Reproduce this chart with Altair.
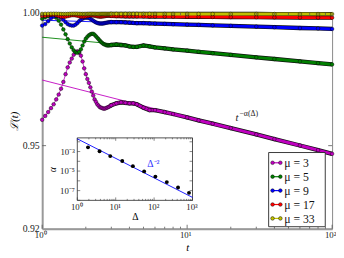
import altair as alt
import pandas as pd

# ---------------- data ----------------
t = [1.00, 1.05, 1.10, 1.15, 1.20, 1.25, 1.30, 1.35, 1.40, 1.45,
     1.50, 1.55, 1.60, 1.65, 1.70, 1.75, 1.80, 1.85, 1.90, 1.95,
     2.00, 2.05, 2.10, 2.15, 2.20, 2.25, 2.30, 2.35, 2.40, 2.45,
     2.50, 2.55, 2.60, 2.65, 2.70, 2.75, 2.80, 2.85, 2.90, 2.95,
     3.00, 3.25, 3.5, 3.75, 4, 4.25, 4.5, 5, 5.5, 6,
     7, 8, 10, 12, 15, 20, 30, 40, 60, 80, 100]

L_mu3 = [0.95953, 0.96097, 0.96241, 0.96386, 0.96531, 0.96712, 0.96895, 0.97113, 0.97368, 0.97661,
         0.97918, 0.98103, 0.98250, 0.98398, 0.98491, 0.98528, 0.98472, 0.98361, 0.98140, 0.97881,
         0.97661, 0.97478, 0.97332, 0.97167, 0.97004, 0.96858, 0.96712, 0.96622, 0.96531, 0.96477,
         0.96422, 0.96404, 0.96386, 0.96368, 0.96368, 0.96386, 0.96404, 0.96422, 0.96440, 0.96477,
         0.96495,
         0.96567, 0.96603, 0.96585, 0.96567, 0.96567, 0.96531, 0.96404, 0.96314, 0.96314, 0.96241,
         0.96169, 0.96043, 0.95935, 0.95809, 0.95647, 0.95414, 0.95242, 0.95006, 0.94835, 0.94699]

L_mu5 = [0.99775, 0.99831, 0.99869, 0.99887, 0.99887, 0.99812, 0.99700, 0.99550, 0.99364, 0.99177,
         0.98991, 0.98824, 0.98676, 0.98565, 0.98491, 0.98472, 0.98509, 0.98602, 0.98750, 0.98898,
         0.99009, 0.99084, 0.99140, 0.99177, 0.99196, 0.99196, 0.99158, 0.99102, 0.99046, 0.98991,
         0.98935, 0.98880, 0.98843, 0.98806, 0.98787, 0.98768, 0.98750, 0.98750, 0.98750, 0.98761,
         0.98768,
         0.98787, 0.98768, 0.98750, 0.98713, 0.98694, 0.98694, 0.98750, 0.98713, 0.98676, 0.98639,
         0.98602, 0.98554, 0.98509, 0.98457, 0.98391, 0.98298, 0.98235, 0.98144, 0.98081, 0.98029]

L_mu9 = [0.99513, 0.99569, 0.99681, 0.99794, 0.99857, 0.99887, 0.99869, 0.99812, 0.99737, 0.99644,
         0.99569, 0.99532, 0.99513, 0.99513, 0.99550, 0.99607, 0.99681, 0.99737, 0.99775, 0.99805,
         0.99812, 0.99812, 0.99805, 0.99775, 0.99737, 0.99700, 0.99663, 0.99633, 0.99614, 0.99599,
         0.99588, 0.99588, 0.99588, 0.99595, 0.99607, 0.99618, 0.99625, 0.99633, 0.99640, 0.99644,
         0.99648,
         0.99644, 0.99644, 0.99633, 0.99625, 0.99614, 0.99607, 0.99607, 0.99595, 0.99588, 0.99577,
         0.99565, 0.99550, 0.99539, 0.99520, 0.99501, 0.99471, 0.99449, 0.99419, 0.99401, 0.99382]

L_mu17 = [0.99880, 0.99887, 0.99910, 0.99925, 0.99925, 0.99910, 0.99880, 0.99857, 0.99850, 0.99857,
          0.99876, 0.99895, 0.99910, 0.99914, 0.99906, 0.99891, 0.99872, 0.99857, 0.99850, 0.99854,
          0.99865, 0.99880, 0.99891, 0.99899, 0.99902, 0.99899, 0.99891, 0.99880, 0.99869, 0.99861,
          0.99857, 0.99857, 0.99861, 0.99869, 0.99876, 0.99884, 0.99887, 0.99891, 0.99891, 0.99887,
          0.99884,
          0.99880, 0.99876, 0.99872, 0.99869, 0.99869, 0.99869, 0.99865, 0.99861, 0.99861, 0.99857,
          0.99854, 0.99850, 0.99850, 0.99846, 0.99842, 0.99835, 0.99831, 0.99823, 0.99820, 0.99816]

L_mu33 = [0.99962, 0.99965, 0.99968, 0.99970, 0.99970, 0.99968, 0.99964, 0.99961, 0.99959, 0.99959,
          0.99961, 0.99964, 0.99967, 0.99968, 0.99968, 0.99966, 0.99963, 0.99961, 0.99960, 0.99960,
          0.99961, 0.99963, 0.99965, 0.99966, 0.99966, 0.99965, 0.99964, 0.99962, 0.99961, 0.99961,
          0.99962, 0.99963, 0.99964, 0.99964, 0.99964, 0.99963, 0.99963, 0.99962, 0.99962, 0.99962,
          0.99962,
          0.99962, 0.99962, 0.99962, 0.99961, 0.99961, 0.99961, 0.99961, 0.99961, 0.99960, 0.99960,
          0.99960, 0.99960, 0.99959, 0.99959, 0.99958, 0.99958, 0.99957, 0.99956, 0.99956, 0.99955]

# power-law fits t^{-alpha}: end points at t = 1 and t = 100
fit_t = [1, 100]
fit_mu3 = [0.97441, 0.94699]
fit_mu5 = [0.99065, 0.98029]
fit_mu9 = [0.99719, 0.99382]
fit_mu17 = [0.99906, 0.99816]
fit_mu33 = [0.99966, 0.99955]

mu_labels = ["μ = 3", "μ = 5", "μ = 9", "μ = 17", "μ = 33"]
mu_colors = ["#bf00bf", "#008000", "#0000ff", "#ff0000", "#bfbf00"]

# inset: alpha versus Delta
delta = [1.9, 3.8, 7.2, 14.8, 28, 55, 108, 214, 420, 810]
alpha = [2.7e-3, 1.07e-3, 3.4e-4, 1.07e-4, 3.2e-5, 9.3e-6, 2.7e-6, 7.4e-7, 2.1e-7, 5.9e-8]
delta_line = [1, 1000]
alpha_line = [2.0e-2, 2.0e-8]

x_major = [1, 10, 100]
x_minor = [2, 3, 4, 5, 6, 7, 8, 9, 20, 30, 40, 50, 60, 70, 80, 90]
y_labels = [0.92, 0.95, 1.00]
ix_major = [1, 10, 100, 1000]
ix_minor = [2, 3, 4, 5, 6, 7, 8, 9, 20, 30, 40, 50, 60, 70, 80, 90,
            200, 300, 400, 500, 600, 700, 800, 900]
iy_major = [1e-8, 1e-7, 1e-6, 1e-5, 1e-4, 1e-3, 1e-2]
iy_labels = [1e-3, 1e-5, 1e-7]

# ---------------- layout / style ----------------
W, H = 297, 221
FONT = "Liberation Serif"
IX0, IX1 = 36, 154      # inset plot-area range (px inside main plot)
IY0, IY1 = 192, 128
# legend box (px inside main plot)
LX0, LX1, LY0, LY1 = 232, 290, 143, 219
L_ROW0, L_ROW1 = 153.5, 210.5

series = [L_mu3, L_mu5, L_mu9, L_mu17, L_mu33]
fits = [fit_mu3, fit_mu5, fit_mu9, fit_mu17, fit_mu33]
rows, frows = [], []
for lab, vals, fv in zip(mu_labels, series, fits):
    assert len(vals) == len(t)
    for tt, v in zip(t, vals):
        rows.append({"t": tt, "L": v, "mu": lab})
    for tt, v in zip(fit_t, fv):
        frows.append({"t": tt, "L": v, "mu": lab})
curves = pd.DataFrame(rows)
fitdf = pd.DataFrame(frows)

xs = alt.Scale(type="log", domain=[1, 100], nice=False)
ys = alt.Scale(type="log", domain=[0.92, 1.0], nice=False, zero=False)
cs = alt.Scale(domain=mu_labels, range=mu_colors)

x_axis = alt.Axis(values=x_major,
                  labelExpr="datum.value < 3 ? '10⁰' : datum.value < 30 ? '10¹' : '10²'",
                  title="t", titleFontStyle="italic", titleFontWeight="normal",
                  titleFont=FONT, titleFontSize=11, titlePadding=2,
                  labelFont=FONT, labelFontSize=9, labelPadding=2, labelFlush=False,
                  labelOffset=-2,
                  ticks=False, tickSize=0, grid=False,
                  domainColor="#999999", domainWidth=2, labelColor="#222")
y_axis = alt.Axis(values=y_labels, format=".2f",
                  title="ℒ(t)", titleFontStyle="italic", titleFontWeight="normal",
                  titleFont=FONT, titleFontSize=11, titlePadding=3,
                  labelFont=FONT, labelFontSize=10, labelPadding=3, labelFlush=False,
                  ticks=False, tickSize=0, grid=False,
                  domainColor="#999999", domainWidth=2, labelColor="#222")

X = alt.X("t:Q", scale=xs, axis=x_axis)
Y = alt.Y("L:Q", scale=ys, axis=y_axis)
line_color = alt.Color("mu:N", scale=cs, legend=None)

fit_layer = alt.Chart(fitdf).mark_line(strokeWidth=0.9).encode(x=X, y=Y, color=line_color)
band_black = alt.Chart(curves).transform_filter("datum.t >= 2.95").mark_line(
    color="#111", strokeWidth=4.4).encode(x=X, y=Y, detail="mu:N")
band_col = alt.Chart(curves).transform_filter("datum.t >= 2.95").mark_line(
    strokeWidth=3.0).encode(x=X, y=Y, color=line_color)
thin = alt.Chart(curves).mark_line(strokeWidth=0.8).encode(x=X, y=Y, color=line_color)
pts = alt.Chart(curves).mark_circle(size=14, opacity=1, stroke="black", strokeWidth=0.45).encode(
    x=X, y=Y, fill=alt.Fill("mu:N", scale=cs, legend=None))

xt_major = pd.DataFrame({"t": x_major})
xt_minor = pd.DataFrame({"t": x_minor})
yt = pd.DataFrame({"L": [0.95]})
tick_style = dict(color="#555", strokeWidth=0.8)
ticks_main = [
    alt.Chart(xt_major).mark_rule(**tick_style).encode(x=X, y=alt.value(H), y2=alt.value(H - 4)),
    alt.Chart(xt_minor).mark_rule(**tick_style).encode(x=X, y=alt.value(H), y2=alt.value(H - 2)),
    alt.Chart(xt_major).mark_rule(**tick_style).encode(x=X, y=alt.value(0), y2=alt.value(4)),
    alt.Chart(xt_minor).mark_rule(**tick_style).encode(x=X, y=alt.value(0), y2=alt.value(2)),
    alt.Chart(yt).mark_rule(**tick_style).encode(y=Y, x=alt.value(0), x2=alt.value(4)),
    alt.Chart(yt).mark_rule(**tick_style).encode(y=Y, x=alt.value(W), x2=alt.value(W - 4)),
]

ann = pd.DataFrame({"t": [22.6], "L": [0.9604]})
ann_t = alt.Chart(ann).mark_text(text="t", font=FONT, fontStyle="italic", fontSize=11,
                                 align="right", baseline="middle", dy=1, color="#222").encode(x=X, y=Y)
ann_sup = alt.Chart(ann).mark_text(text="−α(Δ)", font=FONT, fontSize=8, align="left",
                                   baseline="middle", dx=1, dy=-3, color="#222").encode(x=X, y=Y)

main = alt.layer(fit_layer, band_black, band_col, thin, pts, *ticks_main, ann_t, ann_sup)

# ---------------- inset ----------------
ixs = alt.Scale(type="log", domain=[1, 1000], range=[IX0, IX1], nice=False)
iys = alt.Scale(type="log", domain=[1e-8, 0.0251], range=[IY0, IY1], nice=False)
ix_axis = alt.Axis(values=ix_major, orient="bottom", offset=-(H - IY0),
                   labelExpr="datum.value < 3 ? '10⁰' : datum.value < 30 ? '10¹' : datum.value < 300 ? '10²' : '10³'",
                   title="Δ", titleFont=FONT, titleFontSize=10, titleFontWeight="normal", titlePadding=1,
                   labelFont=FONT, labelFontSize=9, labelPadding=2, labelFlush=False, labelOffset=-1,
                   ticks=False, tickSize=0, domain=False, grid=False, zindex=1, labelColor="#222")
iy_axis = alt.Axis(values=iy_labels, orient="left", offset=-IX0,
                   labelExpr="datum.value > 0.0005 ? '10⁻³' : datum.value > 0.000005 ? '10⁻⁵' : '10⁻⁷'",
                   title="α", titleFont=FONT, titleFontSize=10, titleFontWeight="normal",
                   titleFontStyle="italic", titlePadding=2,
                   labelFont=FONT, labelFontSize=9, labelPadding=3, labelFlush=False,
                   ticks=False, tickSize=0, domain=False, grid=False, zindex=1, labelColor="#222")
IXe = alt.X("d:Q", scale=ixs, axis=ix_axis)
IYe = alt.Y("a:Q", scale=iys, axis=iy_axis)

frame = alt.Chart(pd.DataFrame({"d": [1], "d2": [1000], "a": [1e-8], "a2": [0.0251]})).mark_rect(
    fill="white", stroke="#222", strokeWidth=0.8).encode(x=IXe, x2="d2", y=IYe, y2="a2")
iline = alt.Chart(pd.DataFrame({"d": delta_line, "a": alpha_line})).mark_line(
    color="#0000ff", strokeWidth=0.9).encode(x=IXe, y=IYe)
ipts = alt.Chart(pd.DataFrame({"d": delta, "a": alpha})).mark_circle(
    size=16, color="black", opacity=1).encode(x=IXe, y=IYe)
itext = alt.Chart(pd.DataFrame({"d": [96], "a": [5e-5]})).mark_text(
    text="Δ⁻²", font=FONT, fontSize=10, color="#3030ff", align="center", baseline="middle").encode(x=IXe, y=IYe)

ixt_major = pd.DataFrame({"d": ix_major})
ixt_minor = pd.DataFrame({"d": ix_minor})
iyt_major = pd.DataFrame({"a": iy_major})
itick = dict(color="#333", strokeWidth=0.6)
ticks_inset = [
    alt.Chart(ixt_major).mark_rule(**itick).encode(x=IXe, y=alt.value(IY0), y2=alt.value(IY0 - 3)),
    alt.Chart(ixt_minor).mark_rule(**itick).encode(x=IXe, y=alt.value(IY0), y2=alt.value(IY0 - 1.5)),
    alt.Chart(ixt_major).mark_rule(**itick).encode(x=IXe, y=alt.value(IY1), y2=alt.value(IY1 + 3)),
    alt.Chart(ixt_minor).mark_rule(**itick).encode(x=IXe, y=alt.value(IY1), y2=alt.value(IY1 + 1.5)),
    alt.Chart(iyt_major).mark_rule(**itick).encode(y=IYe, x=alt.value(IX0), x2=alt.value(IX0 + 3)),
    alt.Chart(iyt_major).mark_rule(**itick).encode(y=IYe, x=alt.value(IX1), x2=alt.value(IX1 - 3)),
]

inset = alt.layer(frame, *ticks_inset, iline, ipts, itext)

# ---------------- legend (key) ----------------
legdf = pd.DataFrame({"row": list(range(len(mu_labels))), "mu": mu_labels})
LR = alt.Y("row:Q", scale=alt.Scale(domain=[0, len(mu_labels) - 1], range=[L_ROW0, L_ROW1]), axis=None)
leg_box = alt.Chart(pd.DataFrame({"k": [0]})).mark_rect(
    fill="white", stroke="#222", strokeWidth=0.9).encode(
    x=alt.value(LX0), x2=alt.value(LX1), y=alt.value(LY0), y2=alt.value(LY1))
leg_line = alt.Chart(legdf).mark_rule(strokeWidth=1.2).encode(
    y=LR, x=alt.value(LX0 + 4), x2=alt.value(LX0 + 12), color=line_color)
leg_dot1 = alt.Chart(legdf).mark_circle(size=14, opacity=1, stroke="black", strokeWidth=0.45).encode(
    y=LR, x=alt.value(LX0 + 4), fill=alt.Fill("mu:N", scale=cs, legend=None))
leg_dot2 = alt.Chart(legdf).mark_circle(size=14, opacity=1, stroke="black", strokeWidth=0.45).encode(
    y=LR, x=alt.value(LX0 + 12), fill=alt.Fill("mu:N", scale=cs, legend=None))
leg_text = alt.Chart(legdf).mark_text(font=FONT, fontSize=12, align="left", baseline="middle",
                                      color="#111", dy=0.5).encode(
    y=LR, x=alt.value(LX0 + 16), text="mu:N")
legend = alt.layer(leg_box, leg_line, leg_dot1, leg_dot2, leg_text)

chart = alt.layer(main, inset, legend).resolve_scale(x="independent", y="independent").properties(
    width=W, height=H,
    padding={"left": 35, "top": 2, "right": 4, "bottom": 27},
    autosize=alt.AutoSizeParams(type="none"),
    background="white",
).configure_view(stroke="#888888", strokeWidth=1)

chart.save("out.html", embed_options={"renderer": "svg", "actions": False})
